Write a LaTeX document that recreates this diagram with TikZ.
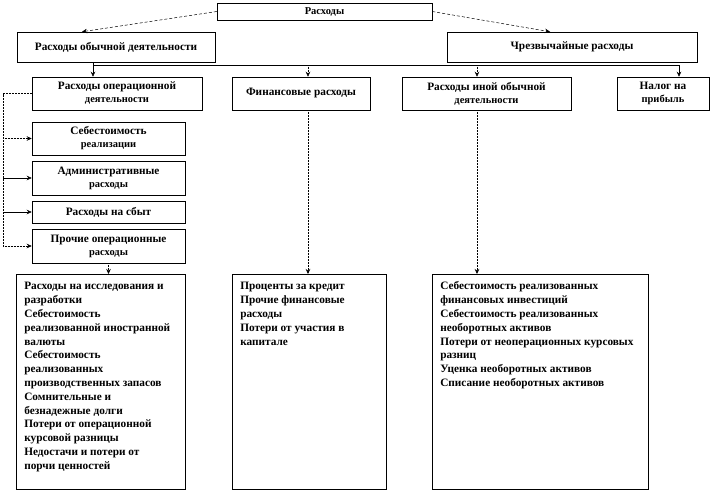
\documentclass[tikz,border=0pt]{standalone}
\usepackage{fontspec}
\setmainfont{Liberation Serif}
\usetikzlibrary{
  arrows.meta,
  positioning
}
\newcommand{\subln}[1]{{\fontsize{10.5}{12}\selectfont #1}}

\begin{document}
\begin{tikzpicture}[
  x = 1pt, y = -1pt,
  % ── Base block ──────────────────────────────────────────
  block/.style={
    rectangle,
    draw            = black,
    line width      = 0.5pt,
    fill            = white,
    align           = center,
    inner sep       = 1pt,
    font            = \fontsize{11.3}{13}\selectfont\bfseries
  },
  % ── List block (text from the top) ──────────────────────
  listblock/.style={
    rectangle,
    draw            = black,
    line width      = 0.5pt,
    anchor          = north west,
    inner xsep      = 8pt,
    inner ysep      = 6pt,
    align           = left,
    font            = \fontsize{11.3}{13.8}\selectfont\bfseries
  },
  % ── Arrows ──────────────────────────────────────────────
  arr/.style={
    -{Stealth[length=5pt, width=4.5pt]},
    line width  = 0.5pt
  },
  dasharr/.style={arr, densely dashed},
  dotarr/.style={arr, densely dotted}
]

\useasboundingbox (0,0) rectangle (712,498);

% ── Nodes ──────────────────────────────────────────────────
\node[block, minimum width=215pt, minimum height=17pt,
      font=\fontsize{10.5}{11}\selectfont\bfseries] (exp)   at (324.5,11.5) {Расходы};
\node[block, minimum width=198pt, minimum height=30pt] (ord)   at (116,47)   {Расходы обычной деятельности};
\node[block, minimum width=250pt, minimum height=30pt] (extra) at (572,47)   {Чрезвычайные расходы};

\node[block, minimum width=170pt, minimum height=33pt] (oper)  at (117,93.5)   {Расходы операционной\\\subln{деятельности}};
\node[block, minimum width=138pt, minimum height=33pt] (fin)   at (301,93.5)   {Финансовые расходы};
\node[block, minimum width=169pt, minimum height=33pt] (other) at (486.5,93.5) {Расходы иной обычной\\\subln{деятельности}};
\node[block, minimum width=92pt,  minimum height=33pt] (tax)   at (663,93.5)   {Налог на\\\subln{прибыль}};

\node[block, minimum width=153pt, minimum height=33pt] (cost)    at (108.5,138.5) {Себестоимость\\\subln{реализации}};
\node[block, minimum width=153pt, minimum height=34pt] (admin)   at (108.5,178)   {Административные\\\subln{расходы}};
\node[block, minimum width=153pt, minimum height=22pt] (sales)   at (108.5,212)   {Расходы на сбыт};
\node[block, minimum width=153pt, minimum height=34pt] (otherop) at (108.5,246)   {Прочие операционные\\\subln{расходы}};

\node[listblock] (list1) at (16,274) {\parbox[t][203pt][t]{153pt}{\raggedright\strut
  Расходы на исследования и\\
  разработки\\
  Себестоимость\\
  реализованной иностранной\\
  валюты\\
  Себестоимость\\
  реализованных\\
  производственных запасов\\
  Сомнительные и\\
  безнадежные долги\\
  Потери от операционной\\
  курсовой разницы\\
  Недостачи и потери от\\
  порчи ценностей}};
\node[listblock] (list2) at (232,274) {\parbox[t][203pt][t]{138pt}{\raggedright\strut
  Проценты за кредит\\
  Прочие финансовые\\
  расходы\\
  Потери от участия в\\
  капитале}};
\node[listblock] (list3) at (432,274) {\parbox[t][203pt][t]{200pt}{\raggedright\strut
  Себестоимость реализованных\\
  финансовых инвестиций\\
  Себестоимость реализованных\\
  необоротных активов\\
  Потери от неоперационных курсовых\\
  разниц\\
  Уценка необоротных активов\\
  Списание необоротных активов}};

% ── Arrows from the top ────────────────────────────────────
\draw[dasharr] (exp.west) -- ([xshift=-34pt]ord.north);
\draw[dasharr] (exp.east) -- ([xshift=-22pt]extra.north);

% ── Bus to the second row ──────────────────────────────────
\coordinate (b1) at (93,65);
\coordinate (b2) at (308,65);
\coordinate (b3) at (477,65);
\coordinate (b4) at (679,65);
\draw[line width=0.5pt] (ord.south -| b1) -- (b1) -- (b4);
\foreach \c/\t/\s in {b1/oper/arr, b2/fin/dotarr, b3/other/dotarr, b4/tax/arr}
  \draw[\s] (\c) -- (\c |- \t.north);

% ── Operating expenses rail ────────────────────────────────
\coordinate (rail) at (3,0);
\draw[densely dotted, line width=0.5pt] (oper.west) -- (oper.west -| rail) -- (rail |- otherop.west);
\foreach \t/\s in {cost/dotarr, admin/arr, sales/arr, otherop/dotarr}
  \draw[\s] (rail |- \t.west) -- (\t.west);

% ── Down to the lists ──────────────────────────────────────
\draw[dotarr] (otherop.south) -- (otherop.south |- list1.north);
\draw[dotarr] (b2 |- fin.south) -- (b2 |- list2.north);
\draw[dotarr] (b3 |- other.south) -- (b3 |- list3.north);

\end{tikzpicture}
\end{document}
